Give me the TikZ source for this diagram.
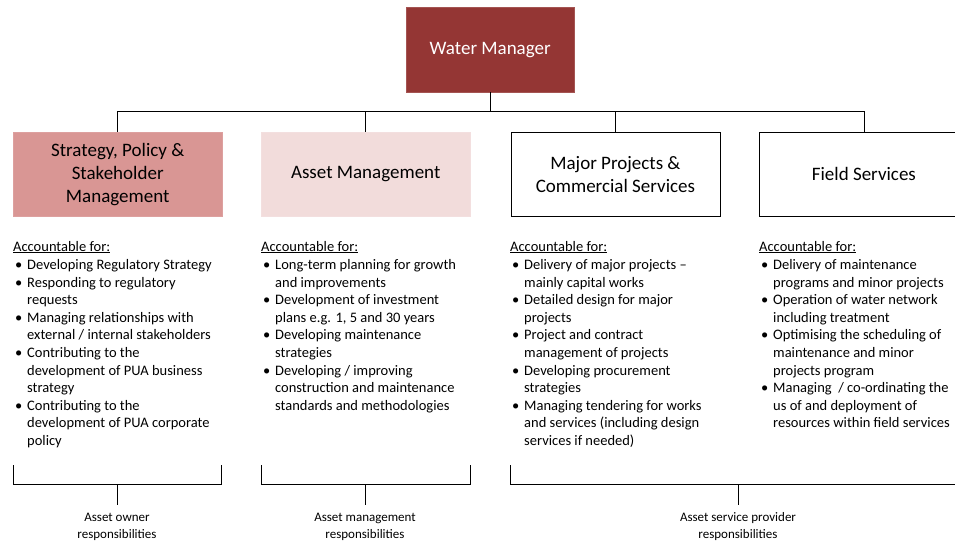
\documentclass[tikz,border=0pt]{standalone}
\usepackage{fontspec}
\setmainfont{Carlito}
\definecolor{wmred}{HTML}{943634}
\definecolor{rose}{HTML}{D99694}
\definecolor{pale}{HTML}{F2DCDB}
\newcommand{\listfont}{\fontsize{14.5}{17.6}\selectfont}
\newcommand{\bul}{\hspace{2pt}•}
\begin{document}
\begin{tikzpicture}[x=1pt,y=-1pt,
  line/.style={draw=black,line width=0.8pt},
  unitbox/.style={minimum width=209pt,minimum height=84pt,inner sep=0pt,align=center,
     font=\fontsize{19}{23}\selectfont},
  head/.style={anchor=base west,inner sep=0pt,font=\listfont},
  items/.style={anchor=base west,inner sep=0pt,font=\listfont},
  resp/.style={anchor=base,inner sep=0pt,align=center,font=\fontsize{13}{16.5}\selectfont}]
\useasboundingbox (0,0) rectangle (955,542);
\clip (0,0) rectangle (955,542);
% top
\node[unitbox,fill=wmred,draw=wmred!85!white,minimum width=168pt,minimum height=85pt,text=white,anchor=north west] (wm) at (406,7) {Water Manager};
% units
\node[unitbox,fill=rose,draw=rose!90!white,anchor=north west] (b1) at (13,132) {Strategy, Policy \&\\Stakeholder\\Management};
\node[unitbox,fill=pale,draw=pale!90!white,anchor=north west] (b2) at (261,132) {Asset Management};
\node[unitbox,draw=black,line width=0.8pt,anchor=north west] (b3) at (510.5,132) {Major Projects \&\\Commercial Services};
\node[unitbox,draw=black,line width=0.8pt,anchor=north west] (b4) at (759,132) {Field Services};
% connectors
\coordinate (bus) at (wm.south |- 0,111);
\draw[line] (wm.south) -- (bus);
\draw[line] (bus) -| (b1.north);
\draw[line] (bus) -| (b2.north);
\draw[line] (bus) -| (b3.north);
\draw[line] (bus) -| (b4.north);
% lists
\node[head] (h1) at (13,251) {\underline{Accountable for:}};
\node[head] (h2) at (261,251) {\underline{Accountable for:}};
\node[head] (h3) at (510,251) {\underline{Accountable for:}};
\node[head] (h4) at (759,251) {\underline{Accountable for:}};
\node[items] (l1) at (13,269.5) {\begin{tabular}[t]{@{}p{14pt}@{}l@{}}
\bul & Developing Regulatory Strategy\\
\bul & Responding to regulatory\\
 & requests\\
\bul & Managing relationships with\\
 & external / internal stakeholders\\
\bul & Contributing to the\\
 & development of PUA business\\
 & strategy\\
\bul & Contributing to the\\
 & development of PUA corporate\\
 & policy
\end{tabular}};
\node[items] (l2) at (261,269.5) {\begin{tabular}[t]{@{}p{14pt}@{}l@{}}
\bul & Long-term planning for growth\\
 & and improvements\\
\bul & Development of investment\\
 & plans e.g. 1, 5 and 30 years\\
\bul & Developing maintenance\\
 & strategies\\
\bul & Developing / improving\\
 & construction and maintenance\\
 & standards and methodologies
\end{tabular}};
\node[items] (l3) at (510,269.5) {\begin{tabular}[t]{@{}p{14pt}@{}l@{}}
\bul & Delivery of major projects –\\
 & mainly capital works\\
\bul & Detailed design for major\\
 & projects\\
\bul & Project and contract\\
 & management of projects\\
\bul & Developing procurement\\
 & strategies\\
\bul & Managing tendering for works\\
 & and services (including design\\
 & services if needed)
\end{tabular}};
\node[items] (l4) at (759,269.5) {\begin{tabular}[t]{@{}p{14pt}@{}l@{}}
\bul & Delivery of maintenance\\
 & programs and minor projects\\
\bul & Operation of water network\\
 & including treatment\\
\bul & Optimising the scheduling of\\
 & maintenance and minor\\
 & projects program\\
\bul & Managing \ / co-ordinating the\\
 & us of and deployment of\\
 & resources within field services
\end{tabular}};
% brackets
\coordinate (a1) at (13,465); \coordinate (a2) at (13,484); \coordinate (a3) at (221,484); \coordinate (a4) at (221,465);
\coordinate (m1) at (117,484); \coordinate (t1) at (117,505);
\draw[line] (a1) -- (a2) -- (a3) -- (a4);
\draw[line] (m1) -- (t1);
\coordinate (c1) at (261,465); \coordinate (c2) at (261,484); \coordinate (c3) at (470,484); \coordinate (c4) at (470,465);
\coordinate (m2) at (365,484); \coordinate (t2) at (365,505);
\draw[line] (c1) -- (c2) -- (c3) -- (c4);
\draw[line] (m2) -- (t2);
\coordinate (d1) at (510.5,465); \coordinate (d2) at (510.5,484); \coordinate (d3) at (966,484); \coordinate (d4) at (966,465);
\coordinate (m3) at (738,484); \coordinate (t3) at (738,505);
\draw[line] (d1) -- (d2) -- (d3) -- (d4);
\draw[line] (m3) -- (t3);
\node[resp] (r1) at (117,538) {Asset owner\\responsibilities};
\node[resp] (r2) at (365,538) {Asset management\\responsibilities};
\node[resp] (r3) at (738,538) {Asset service provider\\responsibilities};
\end{tikzpicture}
\end{document}
